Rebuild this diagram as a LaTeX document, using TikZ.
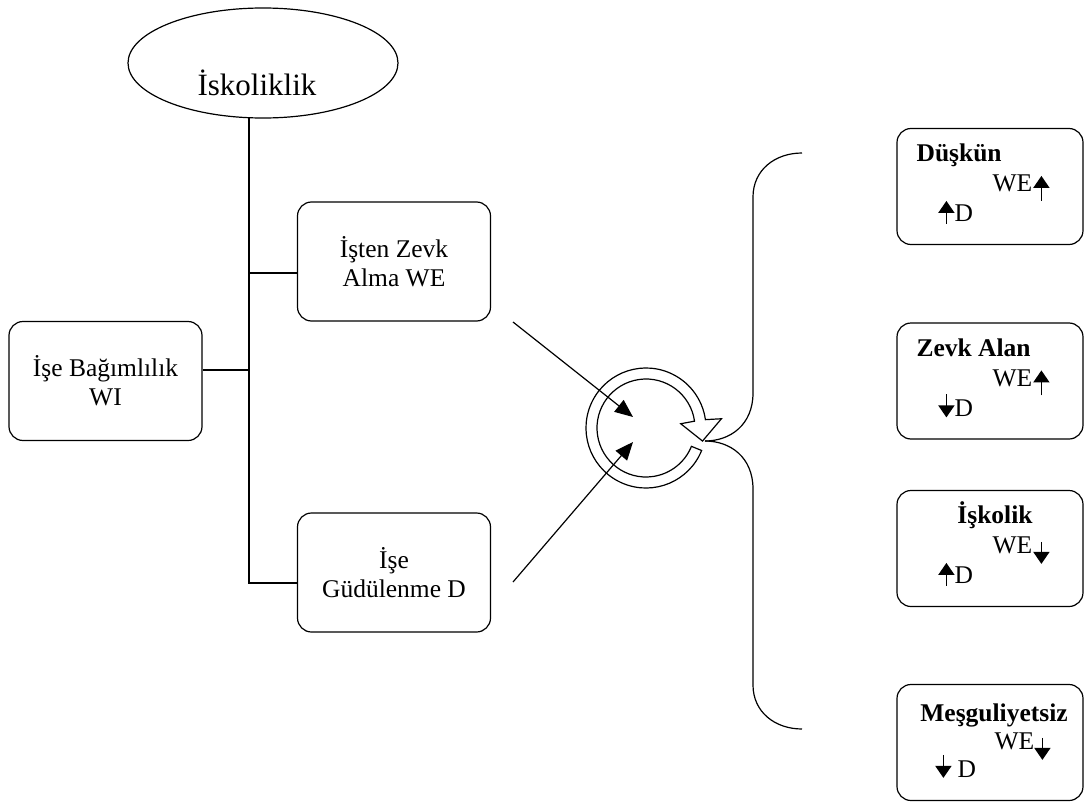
\documentclass[tikz,border=0pt]{standalone}
\usepackage{fontspec}
\setmainfont{Liberation Serif}
\usetikzlibrary{shapes.geometric,arrows.meta,calc}
\tikzset{
  box/.style={draw, line width=1.2pt, rounded corners=14pt, minimum width=193pt, minimum height=119pt, align=center, inner sep=0pt, font=\fontsize{25.5}{29}\selectfont},
  rbox/.style={draw, line width=1.2pt, rounded corners=14pt, minimum width=186pt, minimum height=116pt, inner sep=0pt},
  ttl/.style={font=\fontsize{25.5}{29}\selectfont\bfseries, inner sep=0pt},
  lbl/.style={font=\fontsize{25.5}{29}\selectfont, inner sep=0pt},
  conn/.style={line width=1.2pt},
  arr/.style={line width=1.2pt, -{Triangle[length=18pt,width=15pt]}},
  small/.style={line width=1.6pt, -{Triangle[length=12pt,width=16pt]}},
}
\begin{document}
\begin{tikzpicture}[x=1pt,y=1pt]
\useasboundingbox (0,0) rectangle (1085,-803);
% ellipse
\node[draw, ellipse, line width=1.2pt, minimum width=270pt, minimum height=110pt, inner sep=0pt] (E) at (263,-63) {};
\node[font=\fontsize{31}{35}\selectfont, anchor=base, inner sep=0pt] (Et) at (257,-95) {İskoliklik};
% left boxes
\node[box] (WI) at (105.5,-381) {İşe Bağımlılık\\WI};
\node[box] (WE) at (394,-261.5) {İşten Zevk\\Alma WE};
\node[box] (D) at (394,-572.5) {İşe\\Güdülenme D};
% trunk
\coordinate (top) at (249,-117.5);
\coordinate (j1) at (249,-273);
\coordinate (j2) at (249,-370);
\coordinate (j3) at (249,-583);
\draw[conn] (top) -- (j3) -- (j3 -| D.west);
\draw[conn] (j1) -- (j1 -| WE.west);
\draw[conn] (j2) -- (j2 -| WI.east);
% ring arrow
\coordinate (C) at (646,-428);
\filldraw[fill=white, line width=1.2pt, line join=miter]
  ($(C)+(-22:60)$) arc[start angle=-22, end angle=-352, radius=60]
  -- ($(C)+(7:76)$) -- ($(C)+(-13:58)$) coordinate (tip) -- ($(C)+(7:35)$)
  -- ($(C)+(8:49)$) arc[start angle=-352, end angle=-22, radius=49] -- cycle;
% arrows into ring
\coordinate (a1s) at (513,-322);
\coordinate (a1e) at (633,-417);
\coordinate (a2s) at (513,-582);
\coordinate (a2e) at (633,-442);
\draw[arr] (a1s) -- (a1e);
\draw[arr] (a2s) -- (a2e);
% brace
\coordinate (J) at (705,-441);
\coordinate (bt) at (802,-153);
\coordinate (bb) at (802,-729);
\draw[conn] (bt) .. controls (775,-153) and (753,-170) .. (753,-197) -- (753,-393) .. controls (753,-425) and (730,-441) .. (J);
\draw[conn] (J) .. controls (730,-441) and (753,-457) .. (753,-489) -- (753,-685) .. controls (753,-712) and (775,-729) .. (bb);
% right boxes
\node[rbox] (b1) at (990,-186.5) {};
\node[rbox] (b2) at (990,-381) {};
\node[rbox] (b3) at (990,-548.5) {};
\node[rbox] (b4) at (990,-742.5) {};
% box 1
\node[ttl, anchor=base west] (t1) at ($(b1.north west)+(20,-34)$) {Düşkün};
\node[lbl, anchor=base west] (w1) at ($(b1.north west)+(96,-64)$) {WE};
\node[lbl, anchor=base west] (d1) at ($(b1.north west)+(58,-94)$) {D};
\draw[small] ($(b1.north west)+(145,-73)$) -- ++(0,25);
\draw[small] ($(b1.north west)+(50,-96)$) -- ++(0,23);
% box 2
\node[ttl, anchor=base west] (t2) at ($(b2.north west)+(20,-34)$) {Zevk Alan};
\node[lbl, anchor=base west] (w2) at ($(b2.north west)+(96,-64)$) {WE};
\node[lbl, anchor=base west] (d2) at ($(b2.north west)+(58,-94)$) {D};
\draw[small] ($(b2.north west)+(145,-73)$) -- ++(0,25);
\draw[small] ($(b2.north west)+(50,-72)$) -- ++(0,-23);
% box 3
\node[ttl, anchor=base] (t3) at ($(b3.north)+(5,-34)$) {İşkolik};
\node[lbl, anchor=base west] (w3) at ($(b3.north west)+(96,-64)$) {WE};
\node[lbl, anchor=base west] (d3) at ($(b3.north west)+(58,-94)$) {D};
\draw[small] ($(b3.north west)+(145,-52)$) -- ++(0,-22);
\draw[small] ($(b3.north west)+(50,-96)$) -- ++(0,23);
% box 4
\node[ttl, anchor=base] (t4) at ($(b4.north)+(4,-38)$) {Meşguliyetsiz};
\node[lbl, anchor=base west] (w4) at ($(b4.north west)+(98,-66)$) {WE};
\node[lbl, anchor=base west] (d4) at ($(b4.north west)+(61,-94)$) {D};
\draw[small] ($(b4.north west)+(146,-54)$) -- ++(0,-22);
\draw[small] ($(b4.north west)+(47,-71)$) -- ++(0,-23);
\end{tikzpicture}
\end{document}
